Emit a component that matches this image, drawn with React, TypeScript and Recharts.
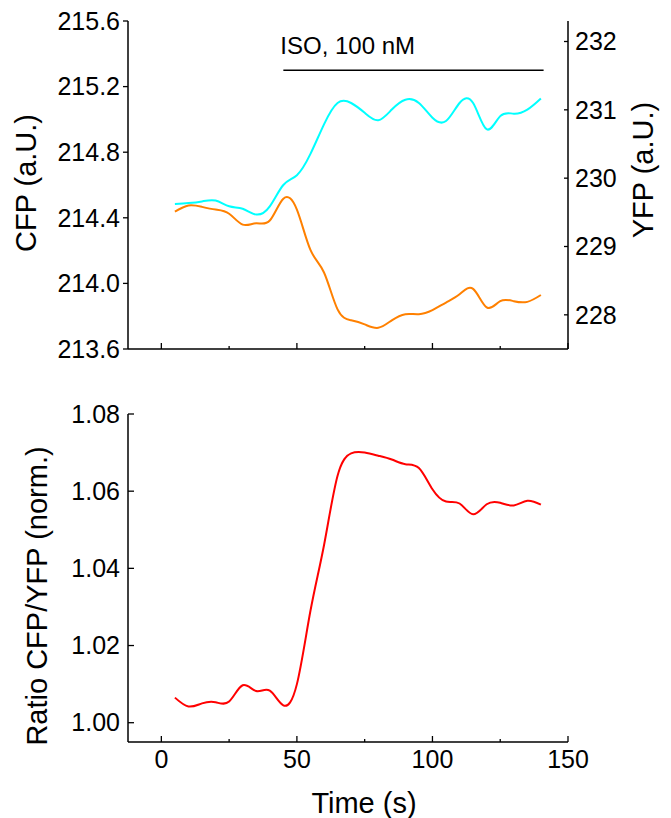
import { LineChart, Line, XAxis, YAxis, ReferenceLine } from 'recharts';

// sampling times (s)
const TIME = [5, 10, 15, 20, 25, 30, 35, 40, 45, 50, 55, 60, 65, 70, 75, 80, 85, 90, 95, 100, 105, 110, 115, 120, 125, 130, 135, 140];

const CFP = [214.484, 214.49, 214.5, 214.505, 214.47, 214.455, 214.42, 214.47, 214.6, 214.66, 214.79, 214.97, 215.1, 215.1, 215.04, 214.995, 215.06, 215.12, 215.1, 215.01, 214.99, 215.1, 215.1, 214.94, 215.02, 215.035, 215.06, 215.128];
const YFP = [229.51, 229.6, 229.58, 229.54, 229.48, 229.32, 229.34, 229.38, 229.7, 229.54, 228.95, 228.62, 228.08, 227.92, 227.86, 227.81, 227.92, 228.01, 228.01, 228.07, 228.18, 228.3, 228.38, 228.11, 228.2, 228.2, 228.19, 228.29];
const RATIO = [1.0065, 1.0042, 1.005, 1.0053, 1.0055, 1.0097, 1.0082, 1.0083, 1.0045, 1.01, 1.029, 1.046, 1.064, 1.0698, 1.07, 1.0692, 1.0682, 1.067, 1.066, 1.0605, 1.0573, 1.0568, 1.054, 1.0566, 1.057, 1.0563, 1.0575, 1.0565];

const X_TICKS = [0, 25, 50, 75, 100, 125, 150];
const CFP_TICKS = [213.6, 214.0, 214.4, 214.8, 215.2, 215.6];
const YFP_TICKS = [228, 229, 230, 231, 232];
const RATIO_TICKS = [1.0, 1.02, 1.04, 1.06, 1.08];

const ISO_LABEL = 'ISO, 100 nM';
const ISO_START = 45;
const ISO_END = 141;
const ISO_LEVEL = 215.3;

const FONT = '"Liberation Sans", Arial, sans-serif';
const X_DOMAIN = [-12.3, 150];

const topData = TIME.map((t, i) => ({ t, cfp: CFP[i], yfp: YFP[i] }));
const bottomData = TIME.map((t, i) => ({ t, ratio: RATIO[i] }));

function TimeTick({ x, y, payload, labels }: any) {
  const major = payload.value % 50 === 0;
  return (
    <g>
      <line x1={x} y1={y} x2={x} y2={y - (major ? 6 : 3)} stroke="#000" strokeWidth={1.3} />
      {labels && major && (
        <text x={x} y={y + 8} dy="0.71em" textAnchor="middle" fontSize={25} fontFamily={FONT} fill="#000">
          {payload.value}
        </text>
      )}
    </g>
  );
}

function LeftTick({ x, y, payload, inward, digits }: any) {
  return (
    <g>
      <line x1={x} y1={y} x2={inward ? x + 6 : x - 5} y2={y} stroke="#000" strokeWidth={1.3} />
      <text x={x - 8} y={y} dy="0.35em" textAnchor="end" fontSize={25} fontFamily={FONT} fill="#000">
        {payload.value.toFixed(digits)}
      </text>
    </g>
  );
}

function RightTick({ x, y, payload }: any) {
  return (
    <g>
      <line x1={x} y1={y} x2={x - 4} y2={y} stroke="#000" strokeWidth={1.3} />
      <text x={x + 7} y={y} dy="0.35em" textAnchor="start" fontSize={25} fontFamily={FONT} fill="#000">
        {payload.value}
      </text>
    </g>
  );
}

function Title({ posX, posY, text, vertical }: any) {
  return (
    <text
      x={posX}
      y={posY}
      textAnchor="middle"
      dominantBaseline={vertical ? 'central' : 'auto'}
      transform={vertical ? `rotate(-90, ${posX}, ${posY})` : undefined}
      fontSize={29}
      fontFamily={FONT}
      fill="#000"
    >
      {text}
    </text>
  );
}

function IsoLabel({ viewBox }: any) {
  return (
    <text x={viewBox.x - 3} y={viewBox.y - 16} fontSize={24} fontFamily={FONT} fill="#000">
      {ISO_LABEL}
    </text>
  );
}

const axisLine = { stroke: '#000', strokeWidth: 1.5 };

export default function App() {
  return (
    <div style={{ position: 'absolute', left: 0, top: 0, width: 671, height: 818, background: '#fff' }}>
      <div style={{ position: 'absolute', left: 0, top: 0 }}>
        <LineChart width={671} height={370} data={topData} margin={{ top: 21, right: 0, bottom: 11, left: 0 }}>
          <XAxis
            dataKey="t"
            type="number"
            domain={X_DOMAIN}
            ticks={X_TICKS}
            allowDataOverflow
            height={10}
            axisLine={axisLine}
            tickLine={false}
            tickSize={0}
            tickMargin={0}
            tick={<TimeTick labels={false} />}
          />
          <YAxis
            yAxisId="l"
            domain={[213.6, 215.6]}
            ticks={CFP_TICKS}
            allowDataOverflow
            width={128}
            axisLine={axisLine}
            tickLine={false}
            tickSize={0}
            tickMargin={0}
            tick={<LeftTick digits={1} />}
            label={<Title posX={26} posY={183} text="CFP (a.U.)" vertical />}
          />
          <YAxis
            yAxisId="r"
            orientation="right"
            domain={[227.5, 232.3]}
            ticks={YFP_TICKS}
            allowDataOverflow
            width={103}
            axisLine={axisLine}
            tickLine={false}
            tickSize={0}
            tickMargin={0}
            tick={<RightTick />}
            label={<Title posX={643} posY={170} text="YFP (a.U.)" vertical />}
          />
          <ReferenceLine
            yAxisId="l"
            segment={[{ x: ISO_START, y: ISO_LEVEL }, { x: ISO_END, y: ISO_LEVEL }]}
            stroke="#000"
            strokeWidth={1.5}
            label={<IsoLabel />}
          />
          <Line yAxisId="l" dataKey="cfp" type="natural" stroke="#00ffff" strokeWidth={2} dot={false} isAnimationActive={false} />
          <Line yAxisId="r" dataKey="yfp" type="natural" stroke="#ff8000" strokeWidth={2} dot={false} isAnimationActive={false} />
        </LineChart>
      </div>
      <div style={{ position: 'absolute', left: 0, top: 370 }}>
        <LineChart width={671} height={448} data={bottomData} margin={{ top: 44, right: 103, bottom: 0, left: 0 }}>
          <XAxis
            dataKey="t"
            type="number"
            domain={X_DOMAIN}
            ticks={X_TICKS}
            allowDataOverflow
            height={76}
            axisLine={axisLine}
            tickLine={false}
            tickSize={0}
            tickMargin={0}
            tick={<TimeTick labels />}
            label={<Title posX={364} posY={443} text="Time (s)" />}
          />
          <YAxis
            domain={[0.995, 1.08]}
            ticks={RATIO_TICKS}
            allowDataOverflow
            width={128}
            axisLine={axisLine}
            tickLine={false}
            tickSize={0}
            tickMargin={0}
            tick={<LeftTick digits={2} inward />}
            label={<Title posX={37} posY={226} text="Ratio CFP/YFP (norm.)" vertical />}
          />
          <Line dataKey="ratio" type="natural" stroke="#ff0000" strokeWidth={2} dot={false} isAnimationActive={false} />
        </LineChart>
      </div>
    </div>
  );
}
